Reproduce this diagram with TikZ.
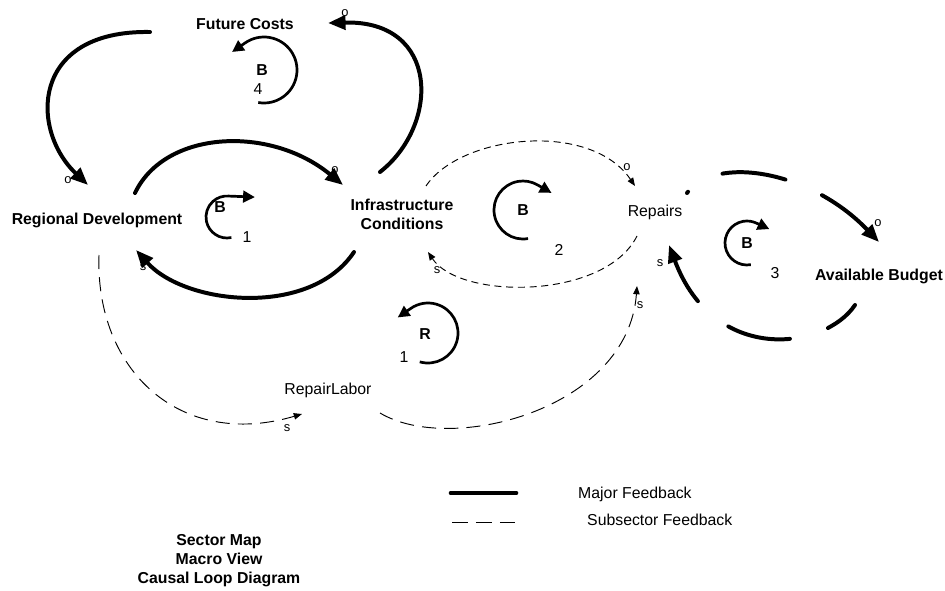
\documentclass[tikz,border=0pt]{standalone}
\usepackage{fontspec}
\setmainfont{Liberation Sans}
\usetikzlibrary{arrows.meta}

\begin{document}
\begin{tikzpicture}[x=0.03cm,y=-0.03cm,
        var/.style={inner sep=0pt,font=\fontsize{13.5}{16}\selectfont},
        bvar/.style={inner sep=0pt,font=\fontsize{13.5}{16}\selectfont\bfseries},
        pol/.style={inner sep=0pt,font=\fontsize{11}{13}\selectfont},
        major/.style={line width=3.4pt,line cap=round,-{Triangle[length=15pt,width=12pt]}},
        majordash/.style={major,dash pattern=on 54.4pt off 34pt},
        minor/.style={line width=0.8pt,dash pattern=on 6pt off 4pt,-{Triangle[length=7pt,width=5.5pt]}},
        minorlong/.style={minor,dash pattern=on 12pt off 7pt},
        loopmark/.style={line width=2.3pt,-{Triangle[length=10pt,width=10pt]}}]
        \useasboundingbox (0,0) rectangle (945,591);

        \node[bvar] (fc) at (245,24) {Future Costs};
        \node[bvar] (rd) at (97,220) {Regional Development};
        \node[bvar,align=center] (ic) at (402,214) {Infrastructure\\Conditions};
        \node[var] (rp) at (655,212) {Repairs};
        \node[bvar] (ab) at (879,276) {Available Budget};
        \node[var] (rl) at (328,390) {RepairLabor};

        \draw[major] ([shift={(-95,8)}]fc.center) .. controls +(-120,-2) and +(-58,-55) .. ([shift={(-9,-35)}]rd.center);
        \draw[major] ([shift={(-22,-42)}]ic.center) .. controls +(60,-47) and +(112,-3) .. ([shift={(83,-1)}]fc.center);
        \draw[major] ([shift={(38,-27)}]rd.center) .. controls +(30,-63) and +(-73,-60) .. ([shift={(-59,-29)}]ic.center);
        \draw[major] ([shift={(-48,38)}]ic.center) .. controls +(-44,66) and +(49,55) .. ([shift={(39,30)}]rd.center);

        \draw[minor] ([shift={(24,-28)}]ic.center) .. controls +(34,-51) and +(-45,-66) .. ([shift={(-20,-26)}]rp.center);
        \draw[minor] ([shift={(-18,24)}]rp.center) .. controls +(-32,64) and +(32,48) .. ([shift={(26,38)}]ic.center);
        \draw[minorlong] ([shift={(2,35)}]rd.center) .. controls +(-4,115) and +(-122,36) .. ([shift={(-26,24)}]rl.center);
        \draw[minorlong] ([shift={(52,23)}]rl.center) .. controls +(70,42) and +(-9,124) .. ([shift={(-18,74)}]rp.center);

        \draw[majordash,dash phase=53pt] ([shift={(32,-19)}]rp.center) .. controls +(28,-38) and +(-69,-72) .. ([shift={(0,-34)}]ab.center);
        \draw[majordash,dash phase=23.8pt] ([shift={(-24,29)}]ab.center) .. controls +(-30,45) and +(45,120) .. ([shift={(14,33)}]rp.center);

        \node[pol] (o1) at (68,180) {o};
        \node[pol] (o2) at (345,13) {o};
        \node[pol] (o3) at (335,170) {o};
        \node[pol] (s1) at (143,267) {s};
        \node[pol] (o4) at (627,167) {o};
        \node[pol] (s2) at (437,270) {s};
        \node[pol] (s3) at (287,428) {s};
        \node[pol] (s4) at (640,305) {s};
        \node[pol] (o5) at (878,223) {o};
        \node[pol] (s5) at (660,263) {s};

        \draw[loopmark] (264,70) ++(100:33) arc[start angle=100,end angle=-125,radius=33] -- ++(-13,9);
        \node[bvar] (b4) at (262,70) {B};
        \node[var] (n4) at (258,89) {4};

        \draw[loopmark] (227,217) ++(78:21) arc[start angle=78,end angle=275,radius=21] -- ++(26,1);
        \node[bvar] (b1) at (220,207) {B};
        \node[var] (n1) at (247,237) {1};

        \draw[loopmark] (523,210) ++(80:29) arc[start angle=80,end angle=300,radius=29] -- ++(14,8);
        \node[bvar] (b2) at (523,210) {B};
        \node[var] (n2) at (559,250) {2};

        \draw[loopmark] (747,243) ++(80:22) arc[start angle=80,end angle=295,radius=22] -- ++(13,6);
        \node[bvar] (b3) at (747,243) {B};
        \node[var] (n3) at (775,273) {3};

        \draw[loopmark] (428,333) ++(106:30) arc[start angle=106,end angle=-125,radius=30] -- ++(-13,9);
        \node[bvar] (r1) at (425,334) {R};
        \node[var] (m1) at (404,357) {1};

        \draw[line width=4pt,line cap=round] (451,493) -- (516,493);
        \draw[line width=0.8pt,dash pattern=on 13.6pt off 6.8pt] (452,522) -- (515,522);
        \node[var,anchor=west] (lg1) at (578,494) {Major Feedback};
        \node[var,anchor=west] (lg2) at (587,520) {Subsector Feedback};

        \node[bvar,align=center,font=\fontsize{13.5}{16.2}\selectfont\bfseries] (title) at (219,561) {Sector Map\\Macro View\\Causal Loop Diagram};
    \end{tikzpicture}
\end{document}
